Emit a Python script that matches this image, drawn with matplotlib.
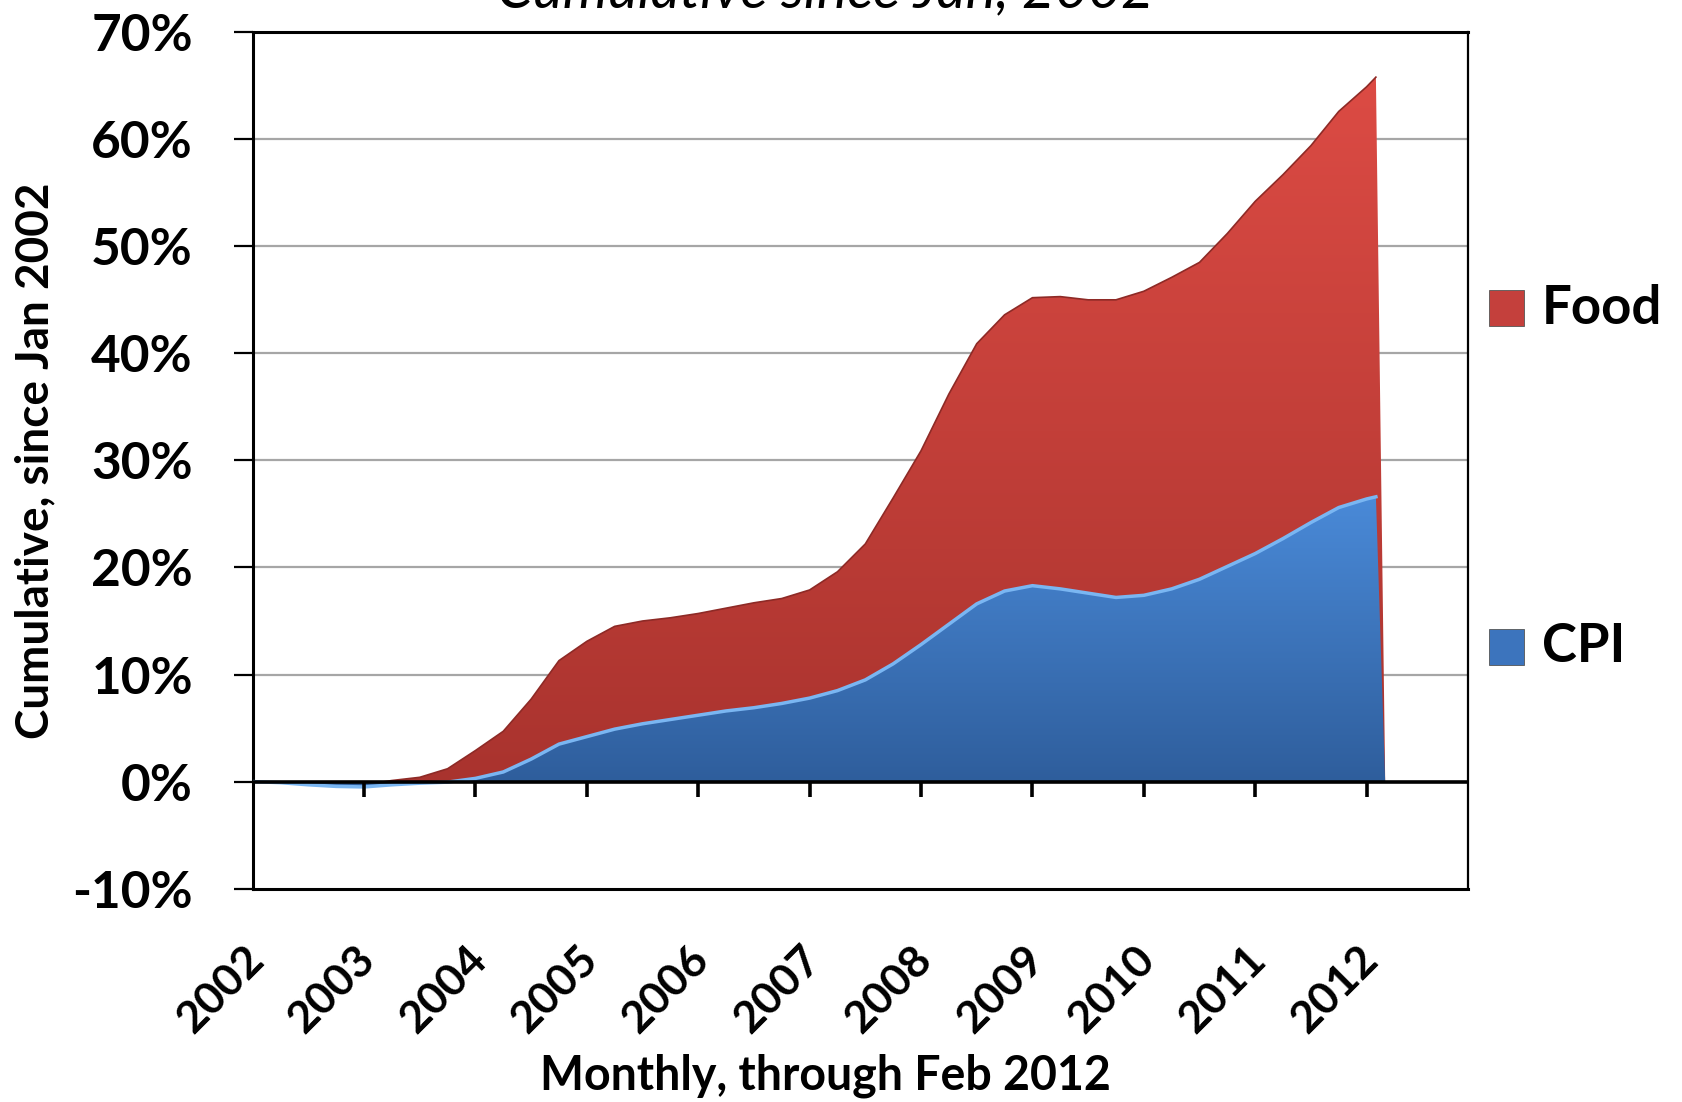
import numpy as np
import matplotlib.pyplot as plt
from matplotlib.colors import LinearSegmentedColormap
from matplotlib.patches import PathPatch, Rectangle
from matplotlib.path import Path
from matplotlib.transforms import ScaledTranslation

# -----------------------------
# DATA (quarterly, % cumulative since Jan 2002)
# -----------------------------
months = [
    "2002-01", "2002-04", "2002-07", "2002-10",
    "2003-01", "2003-04", "2003-07", "2003-10",
    "2004-01", "2004-04", "2004-07", "2004-10",
    "2005-01", "2005-04", "2005-07", "2005-10",
    "2006-01", "2006-04", "2006-07", "2006-10",
    "2007-01", "2007-04", "2007-07", "2007-10",
    "2008-01", "2008-04", "2008-07", "2008-10",
    "2009-01", "2009-04", "2009-07", "2009-10",
    "2010-01", "2010-04", "2010-07", "2010-10",
    "2011-01", "2011-04", "2011-07", "2011-10",
    "2012-01", "2012-02", "2012-03",
]
food = [
    0.0, -0.1, -0.2, -0.3,
    -0.3, 0.1, 0.4, 1.2,
    2.9, 4.7, 7.7, 11.3,
    13.1, 14.5, 15.0, 15.3,
    15.7, 16.2, 16.7, 17.1,
    17.9, 19.6, 22.2, 26.5,
    30.9, 36.2, 40.9, 43.6,
    45.2, 45.3, 45.0, 45.0,
    45.8, 47.1, 48.5, 51.2,
    54.2, 56.7, 59.4, 62.6,
    64.9, 65.8, 0.0,
]
cpi = [
    0.0, -0.1, -0.3, -0.45,
    -0.5, -0.3, -0.15, -0.05,
    0.3, 0.9, 2.1, 3.5,
    4.2, 4.9, 5.4, 5.8,
    6.2, 6.6, 6.9, 7.3,
    7.8, 8.5, 9.5, 11.0,
    12.8, 14.7, 16.6, 17.8,
    18.3, 18.0, 17.6, 17.2,
    17.4, 18.0, 18.9, 20.1,
    21.3, 22.7, 24.2, 25.6,
    26.4, 26.6, 0.0,
]
year_ticks = list(range(2002, 2013))
pct_ticks = list(range(-10, 71, 10))

FONT = "Lato"

# month strings -> decimal year
x = np.array([int(m[:4]) + (int(m[5:]) - 1) / 12 for m in months])


def gradient_area(ax, xs, ys, c_bottom, c_top, z):
    ys = np.asarray(ys, dtype=float)
    verts = [(xs[0], 0)] + list(zip(xs, ys)) + [(xs[-1], 0), (xs[0], 0)]
    patch = PathPatch(Path(verts), transform=ax.transData, fc="none", ec="none")
    ax.add_patch(patch)
    cmap = LinearSegmentedColormap.from_list("g", [c_bottom, c_top])
    grad = np.linspace(0, 1, 256).reshape(-1, 1)
    im = ax.imshow(grad, cmap=cmap, origin="lower", aspect="auto",
                   extent=[xs[0], xs[-1], min(0, ys.min()), ys.max()],
                   zorder=z, interpolation="bilinear")
    im.set_clip_path(patch)
    return patch


# -----------------------------
# PLOT
# -----------------------------
fig = plt.figure(figsize=(16.82, 11.02), dpi=100)
ax = fig.add_axes([0.1502, 0.1936, 0.7223, 0.7772])

for v in pct_ticks[2:-1]:
    ax.axhline(v, color="#a6a6a6", lw=1.6, zorder=1)

gradient_area(ax, x, food, "#a9332e", "#dc4b44", 2)
ax.plot(x[:-1], food[:-1], color="#8e2a26", lw=1.2, zorder=2.5)
gradient_area(ax, x, cpi, "#2e5d9b", "#4a8ad8", 3)
ax.plot(x[:-1], cpi[:-1], color="#7ab6f2", lw=2.5, zorder=3.5)

# zero line with year ticks hanging below it
ax.axhline(0, color="black", lw=2.6, zorder=4)
ax.vlines(year_ticks, -1.4, 0, color="black", lw=2.6, zorder=4)

ax.set_xlim(2002, 2012.906)
ax.set_ylim(-10, 70)

ax.set_yticks(pct_ticks)
ax.set_yticklabels([f"{v}%" for v in pct_ticks], fontsize=37,
                   fontweight="bold", family=FONT)
ax.tick_params(axis="y", length=14, width=1.6, pad=29)

ax.set_xticks(year_ticks)
ax.set_xticklabels([str(y) for y in year_ticks], fontsize=32,
                   fontweight="bold", family=FONT, rotation=45,
                   ha="right", va="top", rotation_mode="anchor")
ax.tick_params(axis="x", length=0, pad=36)
offset = ScaledTranslation(-10 / 100, 0, fig.dpi_scale_trans)
for lab in ax.get_xticklabels():
    lab.set_transform(lab.get_transform() + offset)

for side in ["left", "bottom", "top"]:
    ax.spines[side].set_linewidth(2.2)
ax.spines["right"].set_linewidth(1.6)

fig.text(0.021, 0.582, "Cumulative, since Jan 2002", rotation=90,
         ha="center", va="center", fontsize=33, fontweight="bold", family=FONT)
fig.text(0.4905, 0.024, "Monthly, through Feb 2012", ha="center",
         va="center", fontsize=33.5, fontweight="bold", family=FONT)
fig.text(0.491, 1 - 7 / 1102, "Cumulative since Jan, 2002", ha="center",
         va="baseline", fontsize=41, style="italic", family=FONT)

# legend, drawn by hand at the right
for label, color, yc in [("Food", "#c4403c", 308), ("CPI", "#3c74bd", 647)]:
    fig.add_artist(Rectangle((1489 / 1682, 1 - (yc + 18) / 1102),
                             35 / 1682, 36 / 1102, transform=fig.transFigure,
                             fc=color, ec="#555555", lw=0.6))
    fig.text(1542 / 1682, 1 - yc / 1102, label, ha="left", va="center",
             fontsize=38, fontweight="bold", family=FONT)

fig.savefig("out.png", dpi=100, facecolor="white")
